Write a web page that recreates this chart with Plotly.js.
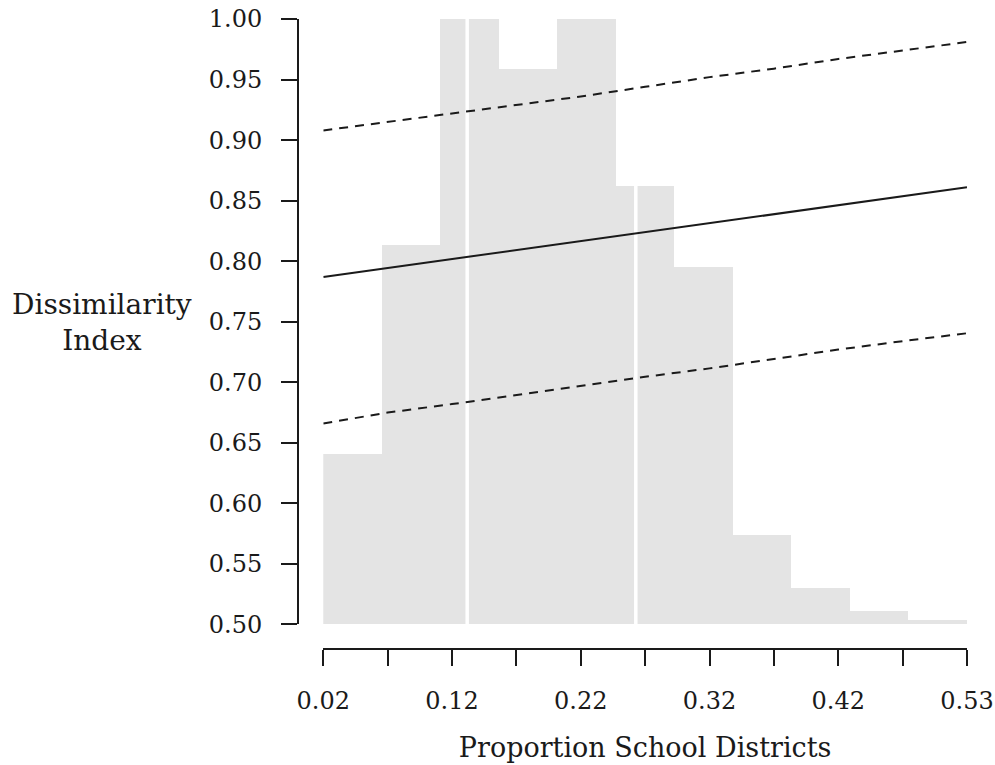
<!DOCTYPE html>
<html><head><meta charset="utf-8">
<script src="https://cdn.plot.ly/plotly-3.0.1.min.js"></script>
<style>html,body{margin:0;padding:0;background:#fff}</style>
</head><body><div id="chart" style="width:995px;height:765px"></div>
<script>
// Histogram (background) bin edges and bar tops (scaled into the y range)
const binEdges = [0.02, 0.0664, 0.1127, 0.1591, 0.2055, 0.2518, 0.2982, 0.3445, 0.3909, 0.4373, 0.4836, 0.53];
const binTops  = [0.641, 0.813, 1.0, 0.959, 1.0, 0.862, 0.795, 0.574, 0.530, 0.511, 0.504];
// White reference lines
const refLinesX = [0.134, 0.2676];
// Fitted line and confidence bounds
const lineX   = [0.02, 0.071, 0.122, 0.173, 0.224, 0.275, 0.326, 0.377, 0.428, 0.479, 0.53];
const fitY    = [0.787, 0.7944, 0.8018, 0.8092, 0.8166, 0.824, 0.8314, 0.8388, 0.8462, 0.8536, 0.861];
const upperY  = [0.908, 0.915, 0.9225, 0.929, 0.936, 0.944, 0.952, 0.959, 0.967, 0.974, 0.981];
const lowerY  = [0.666, 0.675, 0.682, 0.6895, 0.6975, 0.7045, 0.7115, 0.7195, 0.727, 0.734, 0.7405];
// Axis ticks
const xTickVals = [0.02, 0.071, 0.122, 0.173, 0.224, 0.275, 0.326, 0.377, 0.428, 0.479, 0.53];
const xTickText = ["0.02", "", "0.12", "", "0.22", "", "0.32", "", "0.42", "", "0.53"];
const yTickVals = [0.5, 0.55, 0.6, 0.65, 0.7, 0.75, 0.8, 0.85, 0.9, 0.95, 1.0];
const yTickText = yTickVals.map(v => v.toFixed(2));
const yBase = 0.5;

const FONT = "DejaVu Serif";
const INK = "#1a1a1a";

const barX = [], barW = [], barH = [];
for (let i = 0; i < binTops.length; i++) {
  barX.push((binEdges[i] + binEdges[i + 1]) / 2);
  barW.push(binEdges[i + 1] - binEdges[i]);
  barH.push(binTops[i] - yBase);
}

const traces = [
  { type: "bar", x: barX, y: barH, base: yBase, width: barW,
    marker: { color: "#e4e4e4", line: { width: 0 } }, hoverinfo: "skip", showlegend: false }
];
refLinesX.forEach(v => traces.push({
  type: "scatter", mode: "lines", x: [v, v], y: [0.5, 1.0],
  line: { color: "#ffffff", width: 3.5 }, hoverinfo: "skip", showlegend: false
}));
traces.push({ type: "scatter", mode: "lines", x: lineX, y: upperY,
  line: { color: INK, width: 2, dash: "9px,7px" }, showlegend: false });
traces.push({ type: "scatter", mode: "lines", x: lineX, y: fitY,
  line: { color: INK, width: 2 }, showlegend: false });
traces.push({ type: "scatter", mode: "lines", x: lineX, y: lowerY,
  line: { color: INK, width: 2, dash: "9px,7px" }, showlegend: false });

const axisCommon = {
  showline: true, linecolor: INK, linewidth: 2,
  ticks: "outside", ticklen: 16, tickwidth: 2, tickcolor: INK,
  showgrid: false, zeroline: false, fixedrange: true,
  tickfont: { family: FONT, size: 24, color: INK },
  anchor: "free", position: 0
};

const layout = {
  width: 995, height: 765,
  margin: { l: 298, r: 28, t: 19, b: 116, pad: 0 },
  paper_bgcolor: "#ffffff", plot_bgcolor: "#ffffff",
  showlegend: false, bargap: 0,
  font: { family: FONT, color: INK },
  xaxis: Object.assign({}, axisCommon, {
    range: [0.02, 0.53], domain: [0.0378, 1],
    tickmode: "array", tickvals: xTickVals, ticktext: xTickText,
    ticklabelstandoff: 14,
    title: { text: "Proportion School Districts", font: { family: FONT, size: 27, color: INK }, standoff: 23 }
  }),
  yaxis: Object.assign({}, axisCommon, {
    range: [0.5, 1.0], domain: [0.0389, 1],
    tickmode: "array", tickvals: yTickVals, ticktext: yTickText,
    ticklabelstandoff: 14
  }),
  annotations: [{
    text: "Dissimilarity<br>Index", xref: "paper", yref: "paper",
    x: -0.293, y: 0.5175, xanchor: "center", yanchor: "middle",
    showarrow: false, align: "center",
    font: { family: FONT, size: 28, color: INK }
  }]
};

Plotly.newPlot("chart", traces, layout, { displayModeBar: false, staticPlot: true });
</script>
</body></html>
